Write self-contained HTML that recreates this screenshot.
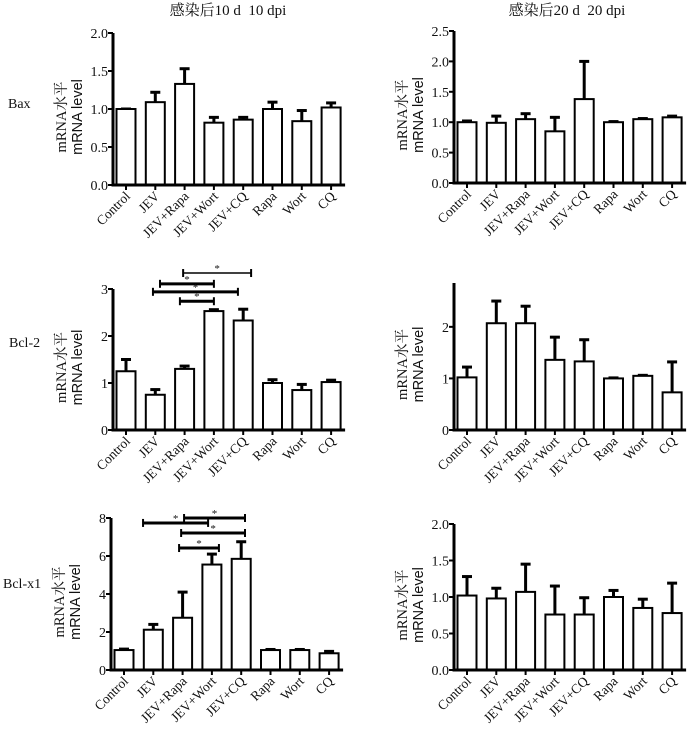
<!DOCTYPE html>
<html><head><meta charset="utf-8">
<style>
html,body{margin:0;padding:0;background:#fff;}
svg{display:block;}
text{font-family:"Liberation Serif","Noto Serif CJK SC",serif;fill:#111;}
.sans{font-family:"Liberation Sans","Noto Sans CJK SC",sans-serif;}
</style></head>
<body>
<svg id="fig" width="700" height="729" viewBox="0 0 700 729" xmlns="http://www.w3.org/2000/svg">
<text x="228" y="15" text-anchor="middle" font-size="15">感染后10 d&#160;&#160;10 dpi</text>
<text x="567" y="15" text-anchor="middle" font-size="15">感染后20 d&#160;&#160;20 dpi</text>
<text x="8" y="108" font-size="14">Bax</text>
<text x="9" y="347" font-size="14">Bcl-2</text>
<text x="3" y="588" font-size="14">Bcl-x1</text>
</svg>
<script>
const categories = ["Control","JEV","JEV+Rapa","JEV+Wort","JEV+CQ","Rapa","Wort","CQ"];
const baxD10 = [1.0,1.09,1.33,0.82,0.86,1.0,0.84,1.02];
const baxD10Err = [1.0,1.22,1.53,0.89,0.89,1.09,0.98,1.08];
const baxD20 = [1.0,0.99,1.05,0.85,1.38,1.0,1.05,1.08];
const baxD20Err = [1.02,1.1,1.14,1.08,2.0,1.01,1.06,1.1];
const bcl2D10 = [1.25,0.75,1.3,2.53,2.33,1.0,0.85,1.02];
const bcl2D10Err = [1.5,0.86,1.36,2.56,2.57,1.07,0.97,1.06];
const bcl2D20 = [1.02,2.07,2.07,1.36,1.33,1.0,1.05,0.73];
const bcl2D20Err = [1.22,2.5,2.4,1.8,1.75,1.01,1.06,1.32];
const bclxlD10 = [1.05,2.12,2.75,5.55,5.85,1.05,1.05,0.88];
const bclxlD10Err = [1.1,2.4,4.1,6.1,6.75,1.08,1.08,0.98];
const bclxlD20 = [1.02,0.98,1.07,0.76,0.76,1.0,0.85,0.78];
const bclxlD20Err = [1.28,1.12,1.45,1.15,0.99,1.09,0.97,1.19];
const ticks05 = ["0.0","0.5","1.0","1.5","2.0"];
const ticks05b = ["0.0","0.5","1.0","1.5","2.0","2.5"];
const ticks1 = ["0","1","2","3"];
const ticks1b = ["0","1","2"];
const ticks2 = ["0","2","4","6","8"];
// [startIndex, endIndex, level, thick]
const bcl2Sig = [[1.95,4.27,3.34,false],[1.16,3.0,3.11,true],[0.92,3.82,2.94,true],[1.84,3.0,2.74,true]];
const bclxlSig = [[2.05,4.13,8.0,true],[0.65,2.87,7.74,true],[1.95,4.13,7.21,true],[1.88,3.24,6.42,true]];

const svg=document.getElementById('fig');
const NS='http://www.w3.org/2000/svg';
function mk(tag,attrs,parent){const e=document.createElementNS(NS,tag);for(const k in attrs)e.setAttribute(k,attrs[k]);(parent||svg).appendChild(e);return e;}

function panel(name,ax,y0,yTop,max,vals,errs,ticks,tickStep,sig){
  const g=mk('g',{});
  
  
  const ys=v=>y0-(v/max)*(y0-yTop);
  const step=29.3, first=ax+13, bw=19;
  const xs=i=>first+i*step;
  const xEnd=xs(7)+14;
  vals.forEach((v,i)=>{
    const cx=xs(i);
    const eb=mk('line',{x1:cx,x2:cx,y1:ys(v),y2:ys(errs[i]),stroke:'#000','stroke-width':3},g);
    
    
    const cap=mk('line',{x1:cx-5,x2:cx+5,y1:ys(errs[i]),y2:ys(errs[i]),stroke:'#000','stroke-width':3},g);
    
    
    const r=mk('rect',{x:cx-bw/2,y:ys(v),width:bw,height:y0-ys(v),fill:'#fff',stroke:'#000','stroke-width':2},g);
    
    
    const t=mk('line',{x1:cx,x2:cx,y1:y0,y2:y0+5,stroke:'#000','stroke-width':2},g);
    
    
    const lb=mk('text',{x:cx+5,y:y0+12,'text-anchor':'end','font-size':13.5,transform:`rotate(-45 ${cx+5} ${y0+12})`},g);
    lb.textContent=categories[i];
    
    
  });
  const ya=mk('line',{x1:ax,x2:ax,y1:yTop,y2:y0+1.5,stroke:'#000','stroke-width':3},g);
  
  
  const xa=mk('line',{x1:ax-1.5,x2:xEnd,y1:y0,y2:y0,stroke:'#000','stroke-width':3},g);
  
  
  ticks.forEach((tl,i)=>{
    const y=ys(i*tickStep);
    const tk=mk('line',{x1:ax-5,x2:ax,y1:y,y2:y,stroke:'#000','stroke-width':2},g);
    
    
    const tx=mk('text',{x:ax-5,y:y+5,'text-anchor':'end','font-size':14},g);
    tx.textContent=tl;
    
    
  });
  const tx2=ax-47, ty=(y0+yTop)/2+8;
  const t1=mk('text',{x:tx2,y:ty,'text-anchor':'middle','font-size':14.5,transform:`rotate(-90 ${tx2} ${ty})`},g);
  t1.textContent='mRNA水平';
  
  
  const t2=mk('text',{x:tx2+16,y:ty,'text-anchor':'middle','font-size':14.5,class:'sans',transform:`rotate(-90 ${tx2+16} ${ty})`},g);
  t2.textContent='mRNA level';
  
  
  (sig||[]).forEach(s=>{
    const [a,b,v,thick]=s;
    const x1=xs(a), x2=xs(b);
    const y=ys(v), w=thick?3:1.5;
    const l=mk('line',{x1:x1,x2:x2,y1:y,y2:y,stroke:'#000','stroke-width':w},g);
    
    
    [x1,x2].forEach(x=>{const c=mk('line',{x1:x,x2:x,y1:y-4,y2:y+4,stroke:'#000','stroke-width':2},g);
      
      });
    const st=mk('text',{x:(x1+x2)/2,y:y-1,'text-anchor':'middle','font-size':11},g);
    st.textContent='*';
    
    
  });
}
panel('bax-10dpi-chart',113,185,33,2.0,baxD10,baxD10Err,ticks05,0.5);
panel('bax-20dpi-chart',454,183,31,2.5,baxD20,baxD20Err,ticks05b,0.5);
panel('bcl2-10dpi-chart',113,430,289,3,bcl2D10,bcl2D10Err,ticks1,1,bcl2Sig);
panel('bcl2-20dpi-chart',454,430,283,2.85,bcl2D20,bcl2D20Err,ticks1b,1);
panel('bclxl-10dpi-chart',111,670,518,8,bclxlD10,bclxlD10Err,ticks2,2,bclxlSig);
panel('bclxl-20dpi-chart',454,670,524,2.0,bclxlD20,bclxlD20Err,ticks05,0.5);
</script>
</body></html>
